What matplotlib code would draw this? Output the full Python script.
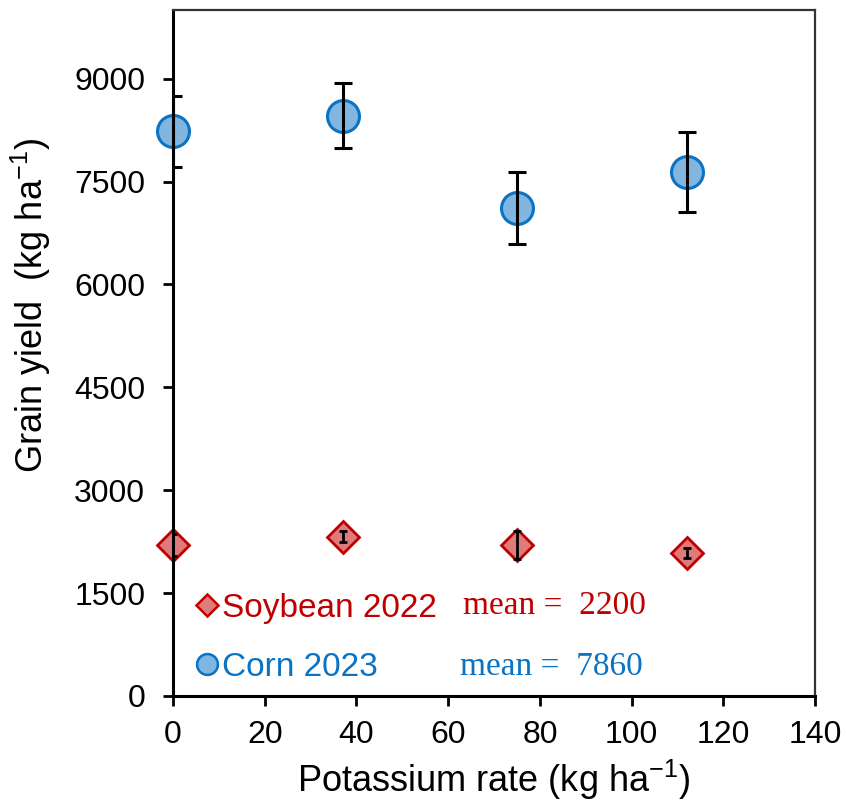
import numpy as np
import matplotlib
matplotlib.use("Agg")
import matplotlib.pyplot as plt
from matplotlib.lines import Line2D

plt.rcParams['font.family'] = ['Liberation Sans', 'DejaVu Sans']

# K rates and yields (kg/ha)
k_rate = [0, 37, 75, 112]
soy_yield = [2200, 2320, 2200, 2080]
soy_err = [160, 80, 200, 75]
corn_yield = [8230, 8460, 7110, 7640]
corn_err = [520, 475, 525, 580]

soy_face = '#e07b7b'
soy_edge = '#c00000'
corn_face = '#80b6e0'
corn_edge = '#0a73c4'

fig = plt.figure(figsize=(8.46, 8.02), dpi=100)
ax = fig.add_axes([0.2045, 0.1322, 0.7589, 0.8553])

# markers first, error bars drawn over them
ax.plot(k_rate, corn_yield, 'o', ms=23, mfc=corn_face, mec=corn_edge, mew=2.2,
        ls='none', zorder=2, clip_on=False)
ax.plot(k_rate, soy_yield, 'D', ms=16, mfc=soy_face, mec=soy_edge, mew=2,
        ls='none', zorder=2, clip_on=False)
ax.errorbar(k_rate, corn_yield, yerr=corn_err, fmt='none', ecolor='black',
            elinewidth=2.2, capsize=6.5, capthick=2.2, zorder=3)
ax.errorbar(k_rate, soy_yield, yerr=soy_err, fmt='none', ecolor='black',
            elinewidth=2, capsize=3, capthick=2, zorder=3)

ax.set_xlim(0, 140)
ax.set_ylim(0, 10000)
ax.set_xticks(np.arange(0, 141, 20))
ax.set_yticks(np.arange(0, 9001, 1500))
ax.tick_params(axis='both', direction='out', length=7, width=2, labelsize=23,
               color='black')
ax.tick_params(axis='y', pad=13)
ax.tick_params(axis='x', pad=10)

for side in ['left', 'bottom']:
    ax.spines[side].set_linewidth(2.2)
    ax.spines[side].set_color('black')
for side in ['top', 'right']:
    ax.spines[side].set_linewidth(1.6)
    ax.spines[side].set_color('#333333')

ax.set_xlabel('Potassium rate (kg ha$^{\\mathregular{-1}}$)', fontsize=26, labelpad=6)
ax.set_ylabel('Grain yield  (kg ha$^{\\mathregular{-1}}$)', fontsize=26)
ax.yaxis.set_label_coords(-0.187, 0.57)

handles = [
    Line2D([], [], marker='D', ls='none', ms=11, mfc=soy_face, mec=soy_edge, mew=1.8),
    Line2D([], [], marker='o', ls='none', ms=15, mfc=corn_face, mec=corn_edge, mew=1.8),
]
leg = ax.legend(handles, ['Soybean 2022', 'Corn 2023'], loc='lower left',
                bbox_to_anchor=(-0.01, -0.025), frameon=False, fontsize=24,
                handlelength=0.6, handletextpad=0.15, labelspacing=0.85)
for txt, col in zip(leg.get_texts(), [soy_edge, corn_edge]):
    txt.set_color(col)

serif = ['Liberation Serif', 'DejaVu Serif']
ax.text(0.452, 0.131, 'mean =  %d' % round(np.mean(soy_yield)), transform=ax.transAxes,
        fontsize=24, family=serif, color=soy_edge, va='center')
ax.text(0.447, 0.042, 'mean =  %d' % round(np.mean(corn_yield)), transform=ax.transAxes,
        fontsize=24, family=serif, color=corn_edge, va='center')

fig.savefig('out.png', dpi=100)
